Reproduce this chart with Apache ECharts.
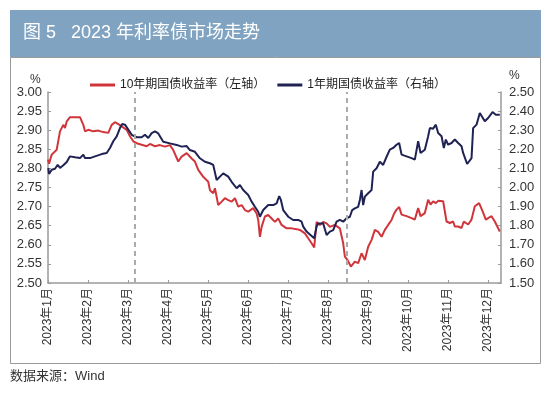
<!DOCTYPE html>
<html><head><meta charset="utf-8">
<script src="https://cdn.jsdelivr.net/npm/echarts@6/dist/echarts.min.js"></script>
<style>html,body{margin:0;padding:0;background:#fff}#c{width:550px;height:395px}</style>
</head><body><div id="c"></div>
<script>
// x positions in months since 2023-01-01 (trading-day scale, 1 unit = 1 month)
const monthLabels = ['2023年1月','2023年2月','2023年3月','2023年4月','2023年5月','2023年6月','2023年7月','2023年8月','2023年9月','2023年10月','2023年11月','2023年12月'];
const eventMarks = [2.175, 7.475];

const tenYearX = [0.000,0.025,0.093,0.218,0.300,0.383,0.425,0.468,0.550,0.800,0.883,0.925,1.008,1.133,1.258,1.383,1.508,1.593,1.675,1.758,1.843,1.968,2.050,2.133,2.218,2.343,2.468,2.550,2.675,2.800,2.925,3.050,3.133,3.258,3.343,3.468,3.593,3.675,3.758,3.883,4.008,4.050,4.133,4.175,4.258,4.343,4.425,4.508,4.593,4.675,4.758,4.843,4.925,5.008,5.133,5.218,5.258,5.300,5.343,5.425,5.508,5.593,5.675,5.758,5.843,5.968,6.093,6.218,6.300,6.425,6.508,6.593,6.658,6.718,6.800,6.883,6.968,7.050,7.175,7.300,7.383,7.425,7.493,7.575,7.675,7.758,7.843,7.925,8.008,8.093,8.175,8.258,8.343,8.425,8.508,8.593,8.658,8.718,8.783,8.843,8.968,9.093,9.175,9.258,9.318,9.425,9.508,9.568,9.633,9.700,9.758,9.883,9.968,10.050,10.133,10.175,10.258,10.343,10.400,10.508,10.593,10.675,10.783,10.868,10.950,11.008,11.093,11.175,11.300];
const tenYearY = [2.823,2.812,2.836,2.849,2.897,2.914,2.906,2.923,2.934,2.934,2.914,2.897,2.901,2.897,2.899,2.895,2.893,2.914,2.921,2.916,2.910,2.901,2.884,2.871,2.866,2.862,2.858,2.864,2.858,2.861,2.857,2.861,2.848,2.818,2.831,2.840,2.826,2.818,2.796,2.778,2.765,2.743,2.735,2.748,2.704,2.713,2.722,2.717,2.713,2.722,2.700,2.704,2.691,2.687,2.696,2.682,2.665,2.621,2.647,2.674,2.678,2.669,2.660,2.669,2.652,2.643,2.643,2.641,2.639,2.630,2.617,2.604,2.593,2.660,2.652,2.660,2.656,2.647,2.652,2.643,2.604,2.569,2.560,2.543,2.556,2.552,2.578,2.560,2.595,2.613,2.639,2.634,2.621,2.639,2.652,2.665,2.682,2.692,2.699,2.679,2.675,2.670,2.666,2.696,2.675,2.683,2.718,2.705,2.714,2.709,2.715,2.714,2.661,2.657,2.661,2.648,2.648,2.644,2.661,2.653,2.666,2.701,2.709,2.688,2.666,2.670,2.675,2.661,2.635];

const oneYearX = [0.008,0.025,0.093,0.175,0.243,0.300,0.383,0.468,0.550,0.675,0.800,0.883,0.925,1.050,1.175,1.343,1.468,1.550,1.633,1.718,1.800,1.858,1.925,2.008,2.093,2.218,2.343,2.425,2.508,2.593,2.675,2.750,2.800,2.883,3.050,3.218,3.343,3.468,3.550,3.675,3.800,3.925,4.050,4.133,4.218,4.300,4.383,4.508,4.593,4.718,4.800,4.883,5.008,5.093,5.175,5.258,5.300,5.383,5.508,5.633,5.718,5.783,5.825,5.883,6.008,6.133,6.258,6.343,6.383,6.468,6.593,6.658,6.718,6.758,6.883,6.968,7.050,7.133,7.218,7.300,7.383,7.468,7.550,7.608,7.675,7.758,7.800,7.843,7.883,7.925,8.008,8.093,8.133,8.218,8.300,8.383,8.468,8.550,8.633,8.718,8.783,8.843,8.968,9.093,9.175,9.258,9.318,9.425,9.508,9.550,9.633,9.700,9.758,9.843,9.900,9.950,10.008,10.093,10.175,10.258,10.343,10.383,10.483,10.593,10.633,10.718,10.800,10.925,11.008,11.118,11.200,11.300];
const oneYearY = [2.102,2.071,2.093,2.098,2.119,2.102,2.116,2.133,2.163,2.158,2.154,2.172,2.154,2.154,2.163,2.175,2.181,2.207,2.242,2.268,2.311,2.332,2.329,2.303,2.276,2.263,2.263,2.276,2.259,2.285,2.294,2.285,2.275,2.240,2.231,2.223,2.214,2.217,2.196,2.187,2.153,2.135,2.127,2.118,2.039,2.057,2.074,2.057,2.030,1.996,2.013,1.987,1.961,1.926,1.899,1.873,1.847,1.882,1.908,1.908,1.917,1.955,1.935,1.882,1.847,1.830,1.830,1.821,1.795,1.769,1.746,1.734,1.795,1.812,1.812,1.751,1.769,1.777,1.821,1.830,1.821,1.839,1.847,1.882,1.891,1.899,1.935,1.987,1.908,1.952,1.970,1.987,2.083,2.101,2.135,2.118,2.161,2.198,2.207,2.224,2.233,2.172,2.163,2.154,2.146,2.242,2.181,2.198,2.268,2.311,2.308,2.329,2.285,2.268,2.207,2.251,2.224,2.233,2.251,2.233,2.216,2.181,2.123,2.154,2.311,2.329,2.390,2.347,2.364,2.395,2.381,2.381];

const zip = (xs, ys) => xs.map((x, i) => [x, ys[i]]);
const FONT = '"Liberation Sans", "Noto Sans CJK SC", sans-serif';
const chart = echarts.init(document.getElementById('c'), null, {renderer: 'canvas'});
chart.setOption({
  animation: false,
  textStyle: {fontFamily: FONT},
  graphic: [
    {type: 'rect', shape: {x: 10, y: 10, width: 531, height: 47}, style: {fill: '#7fa3c0'}},
    {type: 'rect', shape: {x: 10.5, y: 57.5, width: 530, height: 306}, style: {fill: 'none', stroke: '#9a9a9a', lineWidth: 1}},
    {type: 'text', left: 23, top: 24, style: {text: '图 5   2023 年利率债市场走势', fill: '#fff', font: '18px ' + FONT}},
    {type: 'text', left: 10, top: 370, style: {text: '数据来源：Wind', fill: '#333', font: '13px ' + FONT}},
    {type: 'text', left: 30, top: 74, style: {text: '%', fill: '#333', font: '12px ' + FONT}},
    {type: 'text', left: 509, top: 70, style: {text: '%', fill: '#333', font: '12px ' + FONT}}
  ],
  legend: {
    left: 85, top: 74, itemWidth: 25, itemHeight: 3, itemGap: 12, icon: 'rect',
    textStyle: {fontSize: 12, color: '#222', fontFamily: FONT},
    data: ['10年期国债收益率（左轴）', '1年期国债收益率（右轴）']
  },
  grid: {left: 48, right: 49, top: 92, bottom: 112, containLabel: false},
  xAxis: {
    type: 'value', min: 0, max: 11.33, interval: 1,
    axisLine: {lineStyle: {color: '#9a9a9a', width: 1.5}},
    axisTick: {inside: true, length: 3, lineStyle: {color: '#9a9a9a'}},
    splitLine: {show: false},
    axisLabel: {
      rotate: 90, fontSize: 12, color: '#333', margin: 5, showMaxLabel: false,
      formatter: v => (Number.isInteger(v) && monthLabels[v]) ? monthLabels[v] : ''
    }
  },
  yAxis: [
    {type: 'value', min: 2.5, max: 3.0, interval: 0.05, position: 'left',
     axisLine: {show: true, lineStyle: {color: '#9a9a9a', width: 1.5}},
     axisTick: {show: true, inside: true, length: 3, lineStyle: {color: '#9a9a9a'}},
     splitLine: {show: false},
     axisLabel: {fontSize: 13, color: '#333', margin: 6, formatter: v => v.toFixed(2)}},
    {type: 'value', min: 1.5, max: 2.5, interval: 0.1, position: 'right',
     axisLine: {show: true, lineStyle: {color: '#9a9a9a', width: 1.5}},
     axisTick: {show: true, inside: true, length: 3, lineStyle: {color: '#9a9a9a'}},
     splitLine: {show: false},
     axisLabel: {fontSize: 13, color: '#333', margin: 8, formatter: v => v.toFixed(2)}}
  ],
  series: [
    {name: '10年期国债收益率（左轴）', type: 'line', yAxisIndex: 0, showSymbol: false, symbol: 'none',
     color: '#d0353b', lineStyle: {width: 2, color: '#d0353b'},
     data: zip(tenYearX, tenYearY),
     markLine: {silent: true, symbol: 'none', label: {show: false},
       lineStyle: {type: [5, 4], color: '#ababab', width: 2},
       data: eventMarks.map(x => ({xAxis: x}))}},
    {name: '1年期国债收益率（右轴）', type: 'line', yAxisIndex: 1, showSymbol: false, symbol: 'none',
     color: '#1f2252', lineStyle: {width: 2, color: '#1f2252'},
     data: zip(oneYearX, oneYearY)}
  ]
});
</script></body></html>
